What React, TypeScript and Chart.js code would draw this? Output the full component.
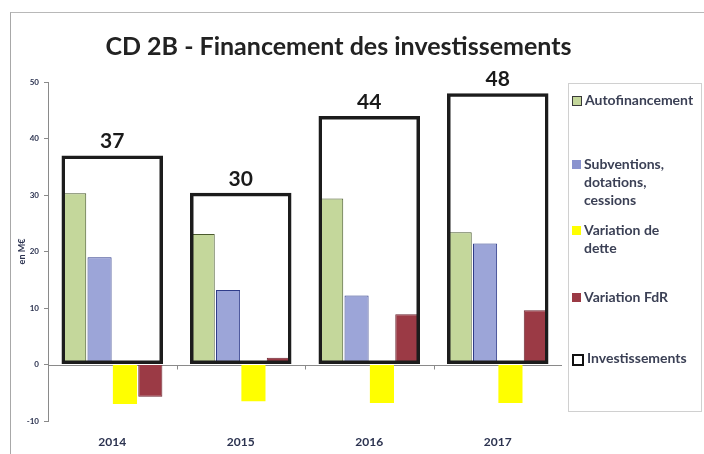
import React, { useEffect, useRef } from "react";
import { Chart, registerables } from "chart.js";

Chart.register(...registerables);

const TITLE = "CD 2B - Financement des investissements";
const years = ["2014", "2015", "2016", "2017"];
const autofinancement = [30.3, 23.1, 29.4, 23.4];
const subventions = [19.0, 13.2, 12.2, 21.4];
const variationDette = [-7.0, -6.5, -6.8, -6.8];
const variationFdR = [-5.7, 1.2, 8.9, 9.6];
const investissements = [37.0, 30.4, 44.0, 48.0];
const yMin = -10;
const yMax = 50;
const yStep = 10;
const yAxisTitle = "en M€";

const seriesNames = ["Autofinancement", "Subventions, dotations, cessions", "Variation de dette", "Variation FdR", "Investissements"];
const legendLines = [["Autofinancement"], ["Subventions,", "dotations,", "cessions"], ["Variation de", "dette"], ["Variation FdR"], ["Investissements"]];

const COLORS = {
  green: "#c4d79b",
  greenBorder: "#4a5a2e",
  blue: "#9ca5d8",
  blueBorder: "#2f3c8a",
  yellow: "#ffff00",
  red: "#9b3a45",
  redBorder: "#6b2530",
  box: "#1c1c1c",
  text: "#2c3350",
};

const FONT = "Lato, 'Open Sans', sans-serif";

const zeroLinePlugin = {
  id: "zeroLine",
  beforeDatasetsDraw(chart: any) {
    const { ctx, chartArea, scales } = chart;
    const y = Math.round(scales.y.getPixelForValue(0)) + 0.5;
    ctx.save();
    ctx.strokeStyle = "#8a8a8a";
    ctx.lineWidth = 1;
    ctx.beginPath();
    ctx.moveTo(chartArea.left, y);
    ctx.lineTo(chartArea.right, y);
    const n = scales.x.ticks.length;
    for (let i = 0; i < n - 1; i++) {
      const xb = Math.round((scales.x.getPixelForTick(i) + scales.x.getPixelForTick(i + 1)) / 2) + 0.5;
      ctx.moveTo(xb, y);
      ctx.lineTo(xb, y + 4);
    }
    ctx.stroke();
    ctx.restore();
  },
};

const valueLabelPlugin = {
  id: "valueLabels",
  afterDatasetsDraw(chart: any) {
    const { ctx } = chart;
    const idx = chart.data.datasets.findIndex((d: any) => d.label === "Investissements");
    const meta = chart.getDatasetMeta(idx);
    ctx.save();
    ctx.fillStyle = "#1a1a1a";
    ctx.font = `bold 21px ${FONT}`;
    ctx.textAlign = "center";
    ctx.textBaseline = "alphabetic";
    meta.data.forEach((el: any, i: number) => {
      const v = chart.data.datasets[idx].data[i];
      ctx.fillText(String(Math.round(v)), el.x, el.y - 7);
    });
    ctx.restore();
  },
};

export default function App() {
  const canvasRef = useRef<HTMLCanvasElement | null>(null);

  useEffect(() => {
    document.body.style.margin = "0";
    const canvas = canvasRef.current;
    if (!canvas) return;
    const chart = new Chart(canvas, {
      type: "bar",
      data: {
        labels: years,
        datasets: [
          {
            label: seriesNames[0],
            data: autofinancement,
            backgroundColor: COLORS.green,
            borderColor: COLORS.greenBorder,
            borderWidth: 1,
            categoryPercentage: 0.79,
            barPercentage: 0.95,
          },
          {
            label: seriesNames[1],
            data: subventions,
            backgroundColor: COLORS.blue,
            borderColor: COLORS.blueBorder,
            borderWidth: 1,
            categoryPercentage: 0.79,
            barPercentage: 0.95,
          },
          {
            label: seriesNames[2],
            data: variationDette,
            backgroundColor: COLORS.yellow,
            borderWidth: 0,
            categoryPercentage: 0.79,
            barPercentage: 0.95,
          },
          {
            label: seriesNames[3],
            data: variationFdR,
            backgroundColor: COLORS.red,
            borderColor: COLORS.redBorder,
            borderWidth: 1,
            categoryPercentage: 0.79,
            barPercentage: 0.95,
          },
          {
            label: seriesNames[4],
            data: investissements,
            backgroundColor: "rgba(0,0,0,0)",
            borderColor: COLORS.box,
            borderWidth: 3.5,
            borderSkipped: false,
            grouped: false,
            order: -1,
            categoryPercentage: 0.79,
            barPercentage: 1.0,
          } as any,
        ],
      },
      options: {
        responsive: false,
        animation: false,
        devicePixelRatio: 1,
        layout: { padding: { top: 82, left: 12, right: 142, bottom: 0 } },
        plugins: {
          legend: { display: false },
          title: { display: false },
          tooltip: { enabled: false },
        },
        scales: {
          x: {
            type: "category",
            offset: true,
            grid: { display: false, drawTicks: false },
            border: { display: false },
            ticks: {
              color: COLORS.text,
              font: { family: FONT, size: 12, weight: "bold" },
              padding: 14,
            },
            afterFit: (scale: any) => {
              scale.height = 33;
            },
          },
          y: {
            min: yMin,
            max: yMax,
            ticks: {
              stepSize: yStep,
              color: COLORS.text,
              font: { family: FONT, size: 8, weight: "bold" },
              padding: 5,
            },
            grid: { drawOnChartArea: false, drawTicks: true, tickLength: 4, color: "#8a8a8a" },
            border: { display: true, color: "#8a8a8a" },
            title: {
              display: true,
              text: yAxisTitle,
              color: COLORS.text,
              font: { family: FONT, size: 9, weight: "bold" },
              padding: { top: 5, bottom: 0 },
            },
            afterFit: (scale: any) => {
              scale.width = 36;
            },
          },
        },
      } as any,
      plugins: [zeroLinePlugin, valueLabelPlugin],
    });
    return () => chart.destroy();
  }, []);

  const markers = [
    { bg: COLORS.green, border: "1px solid #3a3a3a", size: 8 },
    { bg: "#8a93cf", border: "none", size: 9 },
    { bg: COLORS.yellow, border: "none", size: 9 },
    { bg: COLORS.red, border: "none", size: 9 },
    { bg: "#ffffff", border: "2px solid #111", size: 8 },
  ];
  const legendTops = [90, 154, 220, 287, 348];

  return (
    <div style={{ position: "relative", width: 704, height: 454, background: "#fff", overflow: "hidden" }}>
      <div
        style={{
          position: "absolute",
          left: 10,
          top: 12,
          width: 720,
          height: 460,
          borderLeft: "1px solid #a8a8a8",
          borderTop: "1px solid #b8b8b8",
        }}
      />
      <canvas ref={canvasRef} width={704} height={454} style={{ position: "absolute", left: 0, top: 0, display: "block" }} />
      <div
        style={{
          position: "absolute",
          left: 0,
          width: 677,
          top: 30,
          textAlign: "center",
          fontFamily: FONT,
          fontWeight: "bold",
          fontSize: 25,
          color: "#222",
          lineHeight: "30px",
          whiteSpace: "nowrap",
        }}
      >
        {TITLE}
      </div>
      <div
        style={{
          position: "absolute",
          left: 568,
          top: 83,
          width: 134,
          height: 329,
          border: "1px solid #d0d0d0",
          boxSizing: "border-box",
        }}
      >
        {legendLines.map((lines, i) => (
          <div
            key={i}
            style={{
              position: "absolute",
              left: 3,
              top: legendTops[i] - 83,
              display: "flex",
              alignItems: "flex-start",
              fontFamily: FONT,
              fontWeight: "bold",
              fontSize: 14,
              color: "#3b4055",
              lineHeight: "18px",
              whiteSpace: "nowrap",
            }}
          >
            <span
              style={{
                display: "inline-block",
                width: markers[i].size,
                height: markers[i].size,
                background: markers[i].bg,
                border: markers[i].border,
                marginTop: 5,
                marginRight: 3,
                flex: "none",
              }}
            />
            <span>
              {lines.map((l, j) => (
                <div key={j}>{l}</div>
              ))}
            </span>
          </div>
        ))}
      </div>
    </div>
  );
}
